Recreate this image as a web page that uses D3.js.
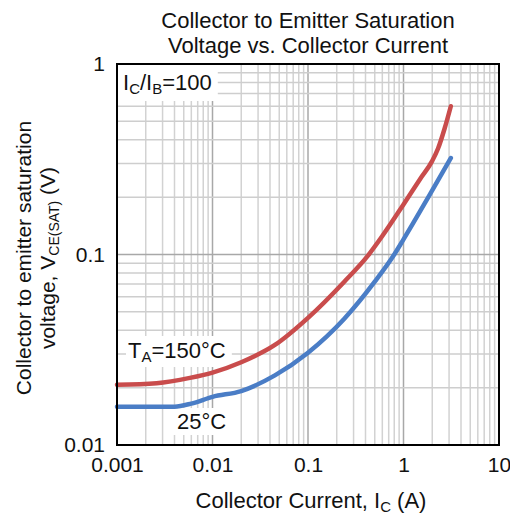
<!DOCTYPE html>
<html>
<head>
<meta charset="utf-8">
<script src="https://cdn.jsdelivr.net/npm/d3@7"></script>
<style>
  body { margin: 0; background: #fff; }
  text { font-family: "Liberation Sans", Arial, sans-serif; fill: #111; }
</style>
</head>
<body>
<svg width="510" height="517"></svg>
<script>
// tick values and labels
var xTicks = [0.001, 0.01, 0.1, 1, 10],
    xTickLabels = ["0.001", "0.01", "0.1", "1", "10"];
var yTicks = [0.01, 0.1, 1],
    yTickLabels = ["0.01", "0.1", "1"];

// TA = 150 C (red)
var ic150  = [0.001, 0.0026, 0.0058, 0.01, 0.02, 0.045, 0.1, 0.24, 0.42, 0.6, 1.0, 1.5, 2.0, 2.3, 2.7, 3.13],
    vce150 = [0.0207, 0.0211, 0.0225, 0.024, 0.0272, 0.0335, 0.0465, 0.072, 0.098, 0.125, 0.183, 0.25, 0.31, 0.36, 0.46, 0.60];

// TA = 25 C (blue)
var ic25  = [0.001, 0.004, 0.006, 0.01, 0.02, 0.045, 0.1, 0.24, 0.5, 0.8, 1.0, 1.82, 3.13],
    vce25 = [0.0159, 0.0159, 0.0165, 0.0179, 0.0192, 0.0232, 0.0305, 0.046, 0.072, 0.1, 0.12, 0.2, 0.321];

var svg = d3.select("svg"),
    margin = {top: 64, right: 11, bottom: 72, left: 117},
    width = +svg.attr("width") - margin.left - margin.right,
    height = +svg.attr("height") - margin.top - margin.bottom,
    g = svg.append("g").attr("transform", "translate(" + margin.left + "," + margin.top + ")");

var gridLayer = g.append("g"),
    boxLayer = g.append("g"),
    curveLayer = g.append("g"),
    textLayer = g.append("g");

var x = d3.scaleLog().domain([0.001, 10]).range([0, width]);
var y = d3.scaleLog().domain([0.01, 1]).range([height, 0]);

// grid lines, 1..9 per decade
var xGrid = [], yGrid = [];
[0.001, 0.01, 0.1, 1].forEach(function(d) {
    for (var k = 1; k < 10; k++) xGrid.push({v: d * k, major: k == 1});
});
[0.01, 0.1].forEach(function(d) {
    for (var k = 1; k < 10; k++) yGrid.push({v: d * k, major: k == 1});
});

gridLayer.selectAll(".vgrid").data(xGrid).enter().append("line")
    .attr("x1", function(d) { return x(d.v); })
    .attr("x2", function(d) { return x(d.v); })
    .attr("y1", 0).attr("y2", height)
    .attr("stroke", function(d) { return d.major ? "#a8a8a8" : "#d2d2d2"; })
    .attr("stroke-width", 1.5);

gridLayer.selectAll(".hgrid").data(yGrid).enter().append("line")
    .attr("y1", function(d) { return y(d.v); })
    .attr("y2", function(d) { return y(d.v); })
    .attr("x1", 0).attr("x2", width)
    .attr("stroke", function(d) { return d.major ? "#a8a8a8" : "#cecece"; })
    .attr("stroke-width", 1.5);

// curves
var line = d3.line()
    .curve(d3.curveMonotoneX)
    .x(function(d) { return x(d[0]); })
    .y(function(d) { return y(d[1]); });

curveLayer.append("path")
    .datum(d3.zip(ic150, vce150))
    .attr("d", line)
    .attr("fill", "none")
    .attr("stroke", "#c94c4c")
    .attr("stroke-width", 4.5)
    .attr("stroke-linecap", "round");

curveLayer.append("path")
    .datum(d3.zip(ic25, vce25))
    .attr("d", line)
    .attr("fill", "none")
    .attr("stroke", "#4a7dc6")
    .attr("stroke-width", 4.5)
    .attr("stroke-linecap", "round");

// frame
g.append("rect")
    .attr("width", width).attr("height", height)
    .attr("fill", "none").attr("stroke", "#000").attr("stroke-width", 2);

// axes (labels only)
var xAxis = g.append("g")
    .attr("transform", "translate(0," + height + ")")
    .call(d3.axisBottom(x).tickValues(xTicks)
        .tickFormat(function(d, i) { return xTickLabels[i]; })
        .tickSize(0).tickPadding(12));
var yAxis = g.append("g")
    .call(d3.axisLeft(y).tickValues(yTicks)
        .tickFormat(function(d, i) { return yTickLabels[i]; })
        .tickSize(0).tickPadding(12));
[xAxis, yAxis].forEach(function(a) {
    a.select(".domain").remove();
    a.selectAll("text").attr("font-size", 21).attr("font-family", null).style("fill", "#111");
});

// text with optional subscripts
function label(parent, xp, yp, parts, anchor, size) {
    size = size || 22;
    var t = parent.append("text").attr("x", xp).attr("y", yp)
        .attr("font-size", size).attr("text-anchor", anchor || "start");
    parts.forEach(function(p) {
        var s = t.append("tspan").text(p[0]);
        if (p[1] == "sub") s.attr("font-size", Math.round(size * 0.68)).attr("dy", 4);
        else if (p[1] == "up") s.attr("dy", -4);
    });
    return t;
}
// annotation with white background behind the curves
function boxed(xp, yp, parts, pad) {
    var t = label(textLayer, xp, yp, parts);
    var b = t.node().getBBox();
    boxLayer.append("rect")
        .attr("x", b.x - pad[0]).attr("y", b.y - pad[1])
        .attr("width", b.width + pad[0] + pad[2]).attr("height", b.height + pad[1] + pad[3])
        .attr("fill", "#fff");
}
boxed(6, 26, [["I"], ["C", "sub"], ["/I", "up"], ["B", "sub"], ["=100", "up"]], [5, 10, 6, 4]);
boxed(11, 294, [["T"], ["A", "sub"], ["=150°C", "up"]], [2, 2, 6, 2]);
boxed(60, 365, [["25°C"]], [4, 1, 4, 1]);

// title
svg.append("text").attr("x", 308).attr("y", 28).attr("text-anchor", "middle")
    .attr("font-size", 22).text("Collector to Emitter Saturation");
svg.append("text").attr("x", 308).attr("y", 53).attr("text-anchor", "middle")
    .attr("font-size", 22).text("Voltage vs. Collector Current");

// x axis title
label(svg, 311, 508, [["Collector Current, I"], ["C", "sub"], [" (A)", "up"]], "middle");

// y axis title
var yt = svg.append("g").attr("transform", "translate(31,258) rotate(-90)");
label(yt, 0, 0, [["Collector to emitter saturation"]], "middle", 21);
label(yt, 0, 24, [["voltage, V"], ["CE(SAT)", "sub"], [" (V)", "up"]], "middle", 21);
</script>
</body>
</html>
